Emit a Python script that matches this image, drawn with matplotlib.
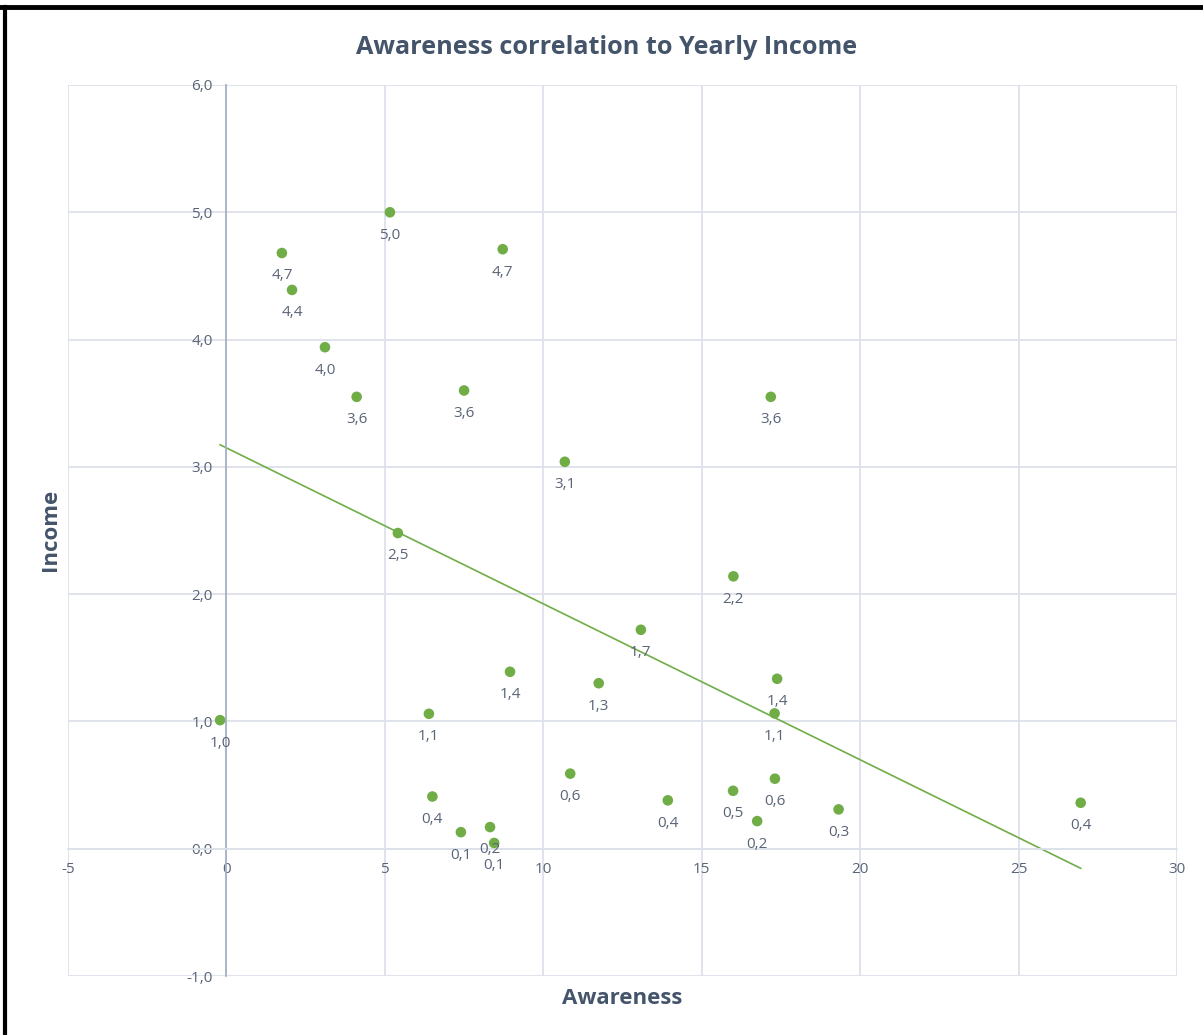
import matplotlib
matplotlib.use("Agg")
import matplotlib.pyplot as plt
import numpy as np
from matplotlib.lines import Line2D

# ---- data ----
awareness = [-0.20, 1.75, 2.07, 3.11, 4.11, 5.16, 8.72, 7.50, 10.68, 5.41,
             17.18, 16.00, 13.08, 8.95, 11.75, 6.39, 17.38, 17.30, 10.85, 6.50,
             7.40, 8.32, 8.45, 13.93, 15.99, 16.75, 17.31, 19.32, 26.96]
income = [1.01, 4.68, 4.39, 3.94, 3.55, 5.00, 4.71, 3.60, 3.04, 2.48,
          3.55, 2.14, 1.72, 1.39, 1.30, 1.06, 1.335, 1.063, 0.59, 0.41,
          0.13, 0.17, 0.045, 0.38, 0.455, 0.217, 0.55, 0.309, 0.361]
point_labels = ["1,0", "4,7", "4,4", "4,0", "3,6", "5,0", "4,7", "3,6", "3,1", "2,5",
                "3,6", "2,2", "1,7", "1,4", "1,3", "1,1", "1,4", "1,1", "0,6", "0,4",
                "0,1", "0,2", "0,1", "0,4", "0,5", "0,2", "0,6", "0,3", "0,4"]
x_ticks = [-5, 0, 5, 10, 15, 20, 25, 30]
y_ticks = [-1, 0, 1, 2, 3, 4, 5, 6]
title = "Awareness correlation to Yearly Income"
x_label = "Awareness"
y_label = "Income"

# ---- style ----
FONT = "Open Sans"
GREEN = "#70AD47"
GRID = "#DDE1E9"
AXISLINE = "#A7B2C6"
TICKCOL = "#596477"
TITLECOL = "#44546A"

plt.rcParams["font.family"] = [FONT, "DejaVu Sans"]

W, H = 1203, 1035
fig = plt.figure(figsize=(W / 100, H / 100), dpi=100)
ax = fig.add_axes([68 / W, 1 - 976 / H, (1177 - 68) / W, (976 - 85) / H])

ax.set_xlim(x_ticks[0], x_ticks[-1])
ax.set_ylim(y_ticks[0], y_ticks[-1])
ax.set_xticks(x_ticks)
ax.set_yticks(y_ticks)
ax.set_xticklabels([f"{t:d}" for t in x_ticks])
ax.set_yticklabels([f"{t:.1f}".replace(".", ",") for t in y_ticks])

ax.grid(True, color=GRID, linewidth=1.3, zorder=0)
ax.set_axisbelow(True)
for gl in ax.get_xgridlines() + ax.get_ygridlines():
    gl.set_clip_on(False)

ax.spines["left"].set_position(("data", 0))
ax.spines["bottom"].set_position(("data", 0))
ax.spines["left"].set_color(AXISLINE)
ax.spines["left"].set_linewidth(1.3)
ax.spines["bottom"].set_color(GRID)
ax.spines["bottom"].set_linewidth(1.3)
ax.spines["top"].set_visible(False)
ax.spines["right"].set_visible(False)
ax.tick_params(axis="both", length=0, labelsize=11, labelcolor=TICKCOL)
ax.tick_params(axis="y", pad=10)
ax.tick_params(axis="x", pad=9.5)

# trendline (linear least squares over the data)
xs = np.array(awareness)
ys = np.array(income)
slope, intercept = np.polyfit(xs, ys, 1)
tx = np.array([xs.min(), xs.max()])
ax.plot(tx, slope * tx + intercept, color=GREEN, linewidth=1.2, zorder=2)

ax.scatter(awareness, income, s=58, color=GREEN, edgecolors="none", zorder=3)
for xv, yv, lab in zip(awareness, income, point_labels):
    ax.annotate(lab, (xv, yv), xytext=(0, -16.5), textcoords="offset points",
                ha="center", va="center", fontsize=11, color=TICKCOL, zorder=4)

fig.text(607 / W, 1 - 54 / H, title, ha="center", va="baseline",
         fontsize=18.2, fontweight="bold", color=TITLECOL)
fig.text(622 / W, 1 - 998 / H, x_label, ha="center", va="center",
         fontsize=16, fontweight="bold", color=TITLECOL)
fig.text(50 / W, 1 - 530 / H, y_label, ha="center", va="center", rotation=90,
         fontsize=16, fontweight="bold", color=TITLECOL)

# black border at top and left of the picture
fig.add_artist(Line2D([0, 1], [1 - 7 / H, 1 - 7 / H], transform=fig.transFigure,
                      color="black", linewidth=3.5))
fig.add_artist(Line2D([5 / W, 5 / W], [0, 1 - 7 / H], transform=fig.transFigure,
                      color="black", linewidth=3.0))

fig.savefig("out.png", dpi=100, facecolor="white")
